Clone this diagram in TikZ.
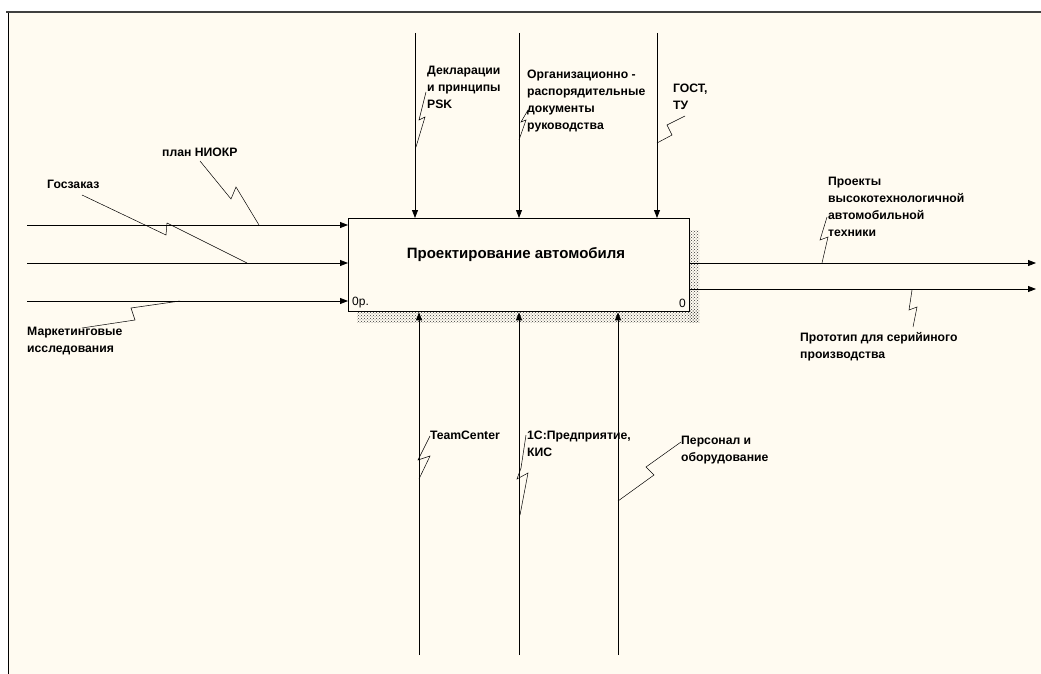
\documentclass[tikz,border=0pt]{standalone}
\usepackage{fontspec}
\setmainfont{Liberation Sans}
\usetikzlibrary{arrows.meta,patterns}
\definecolor{paper}{HTML}{FFFBF1}
\definecolor{frameline}{HTML}{404040}
\tikzset{
  flow/.style={draw=black, line width=0.8pt, -{Triangle[length=8pt,width=6pt]}},
  tag/.style={draw=black, line width=0.5pt},
  lbl/.style={font=\bfseries\fontsize{12.2}{17}\selectfont, align=left, inner sep=0pt, anchor=north west},
  actbox/.style={draw=black, line width=1.3pt, fill=paper, inner sep=0pt,
                 minimum width=341pt, minimum height=93pt},
  boxshadow/.style={pattern=crosshatch dots, pattern color=gray!45!black},
}
\begin{document}
\begin{tikzpicture}[x=1pt,y=-1pt]
\useasboundingbox (0,0) rectangle (1041,674);
% sheet
\fill[white] (0,0) rectangle (1041,674);
\fill[paper] (8,13) rectangle (1041,674);
\draw[frameline, line width=2pt] (6,12) -- (1041,12);
\draw[black, line width=1pt] (8,13) -- (8,674);

% shadow of the activity box
\fill[boxshadow] (689,230) rectangle (699,322);
\fill[boxshadow] (357,310) rectangle (699,322);

% activity box
\node[actbox, anchor=north west] (A) at (348,218) {};
\node[font=\bfseries\fontsize{15}{18}\selectfont, inner sep=0pt] (title) at (516,255) {Проектирование автомобиля};
\node[font=\fontsize{12}{14}\selectfont, inner sep=0pt, anchor=south west] (num) at (352,308) {0р.};
\node[font=\fontsize{12}{14}\selectfont, inner sep=0pt, anchor=south east] (node0) at (686,308) {0};

% inputs
\coordinate (i1) at (27,225);
\coordinate (i2) at (27,263);
\coordinate (i3) at (27,301);
\draw[flow] (i1) -- (A.west |- i1);
\draw[flow] (i2) -- (A.west |- i2);
\draw[flow] (i3) -- (A.west |- i3);

% controls
\coordinate (c1) at (415,33);
\coordinate (c2) at (519,33);
\coordinate (c3) at (657,33);
\draw[flow] (c1) -- (c1 |- A.north);
\draw[flow] (c2) -- (c2 |- A.north);
\draw[flow] (c3) -- (c3 |- A.north);

% mechanisms
\coordinate (m1) at (419,655);
\coordinate (m2) at (519,655);
\coordinate (m3) at (618,655);
\draw[flow] (m1) -- (m1 |- A.south);
\draw[flow] (m2) -- (m2 |- A.south);
\draw[flow] (m3) -- (m3 |- A.south);

% outputs
\coordinate (o1) at (1036,263);
\coordinate (o2) at (1036,289);
\draw[flow] (A.east |- o1) -- (o1);
\draw[flow] (A.east |- o2) -- (o2);

% labels
\node[lbl] (l_plan) at (162,148) {план НИОКР};
\node[lbl] (l_goz) at (47,180) {Госзаказ};
\node[lbl] (l_mark) at (27,327) {Маркетинговые\\исследования};
\node[lbl] (l_decl) at (427,66) {Декларации\\и принципы\\PSK};
\node[lbl] (l_org) at (527,70) {Организационно -\\распорядительные\\документы\\руководства};
\node[lbl] (l_gost) at (673,84) {ГОСТ,\\ТУ};
\node[lbl] (l_proj) at (828,177) {Проекты\\высокотехнологичной\\автомобильной\\техники};
\node[lbl] (l_proto) at (800,332) {Прототип для серийиного\\производства};
\node[lbl] (l_team) at (430,431) {TeamCenter};
\node[lbl] (l_1c) at (527,431) {1С:Предприятие,\\КИС};
\node[lbl] (l_pers) at (681,436) {Персонал и\\оборудование};

% label leaders (squiggles)
\draw[tag] (200,161) -- (231,199) -- (236,187) -- (259,225);
\draw[tag] (82,195) -- (166,235) -- (167,223) -- (247,263);
\draw[tag] (82,328) -- (135,320) -- (131,308) -- (180,301);
\draw[tag] (426,92) -- (419,120) -- (425,117) -- (416,147);
\draw[tag] (528,110) -- (521,122) -- (526,120) -- (519,140);
\draw[tag] (657,143) -- (672,135) -- (667,125) -- (685,116);
\draw[tag] (827,217) -- (820,240) -- (828,237) -- (822,263);
\draw[tag] (912,290) -- (909,310) -- (917,307) -- (913,327);
\draw[tag] (430,436) -- (418,460) -- (430,456) -- (419,479);
\draw[tag] (526,435) -- (521,468) -- (517,479) -- (528,473) -- (520,515);
\draw[tag] (681,442) -- (646,467) -- (654,475) -- (618,501);
\end{tikzpicture}
\end{document}
